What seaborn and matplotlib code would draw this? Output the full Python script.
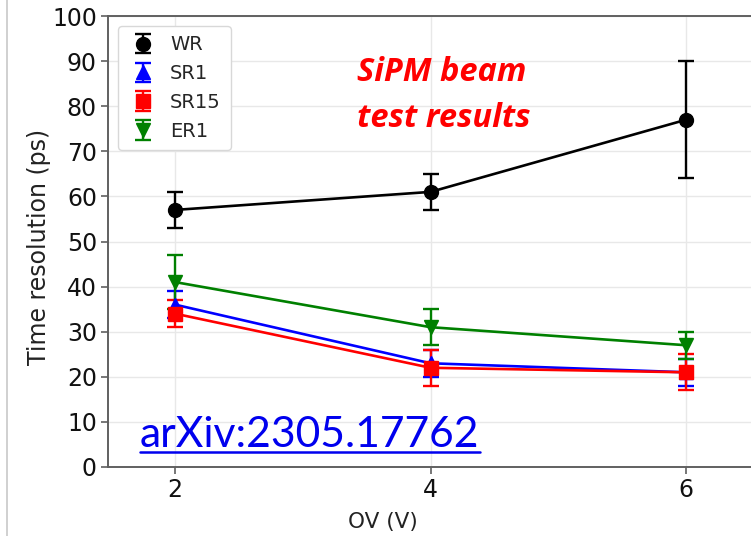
import matplotlib
matplotlib.use("Agg")
import matplotlib.pyplot as plt
from matplotlib.lines import Line2D
import seaborn as sns
import pandas as pd

ov = [2, 4, 6]
series_names = ["WR", "SR1", "SR15", "ER1"]
wr_vals = [57, 61, 77]
wr_errs = [4, 4, 13]
sr1_vals = [36, 23, 21]
sr1_errs = [3, 3, 3]
sr15_vals = [34, 22, 21]
sr15_errs = [3, 4, 4]
er1_vals = [41, 31, 27]
er1_errs = [6, 4, 3]
y_ticks = [0, 10, 20, 30, 40, 50, 60, 70, 80, 90, 100]
x_ticks = [2, 4, 6]

colors = {"WR": "black", "SR1": "#0000ff", "SR15": "#ff0000", "ER1": "#008000"}
markers = {"WR": "o", "SR1": "^", "SR15": "s", "ER1": "v"}

vals = {"WR": wr_vals, "SR1": sr1_vals, "SR15": sr15_vals, "ER1": er1_vals}
errs = {"WR": wr_errs, "SR1": sr1_errs, "SR15": sr15_errs, "ER1": er1_errs}

rows = []
for s in series_names:
    for x, v, e in zip(ov, vals[s], errs[s]):
        rows.append({"OV": x, "res": v, "err": e, "series": s})
df = pd.DataFrame(rows)

sns.set_theme(style="whitegrid")
plt.rcParams["font.family"] = ["DejaVu Sans"]

fig = plt.figure(figsize=(7.51, 5.36), dpi=100)
W, H = 751, 536
ax_left, ax_top, ax_bottom = 108, 16, 467
x_lo, x_hi = 1.475, 6.6
px_per_unit = 127.75
ax_w = (x_hi - x_lo) * px_per_unit
ax = fig.add_axes([ax_left / W, (H - ax_bottom) / H, ax_w / W, (ax_bottom - ax_top) / H])

sns.lineplot(data=df, x="OV", y="res", hue="series", palette=colors,
             hue_order=series_names, legend=False, ax=ax, linewidth=1.9,
             estimator=None, sort=True)

for s in series_names:
    d = df[df.series == s]
    ax.errorbar(d["OV"], d["res"], yerr=d["err"], fmt=markers[s], color=colors[s],
                markersize=10, capsize=6, elinewidth=1.7, capthick=1.7, label=s)

ax.set_xlim(x_lo, x_hi)
ax.set_ylim(0, 100)
ax.set_xticks(x_ticks)
ax.set_yticks(y_ticks)
ax.grid(True, color="#e8e8e8", linewidth=1.0)
for sp in ax.spines.values():
    sp.set_color("#606060")
    sp.set_linewidth(1.4)
ax.tick_params(axis="both", which="both", direction="out", length=5, width=1.2,
               color="#606060", labelsize=17, labelcolor="#111111", left=True, bottom=True, pad=3)
ax.set_xlabel("OV (V)", fontsize=15.5, color="#222222")
ax.set_ylabel("Time resolution (ps)", fontsize=17, color="#222222")
ax.xaxis.set_label_coords((383 - ax_left) / ax_w, -(522 - ax_bottom) / (ax_bottom - ax_top))
ax.xaxis.label.set_va("center")
ax.yaxis.set_label_coords(-(ax_left - 39) / ax_w, 0.487)
ax.yaxis.label.set_va("center")

leg = ax.legend(loc="upper left", fontsize=14, frameon=True, framealpha=1,
                edgecolor="#d8d8d8", fancybox=True, borderpad=0.5, handletextpad=0.6,
                labelspacing=0.5, handlelength=1.6, borderaxespad=0.5)
leg.get_frame().set_linewidth(1.0)

fig.text(357 / W, 1 - 81 / H, "SiPM beam", color="#ff0000", fontsize=23.5,
         fontweight="bold", fontstyle="italic", family=["Open Sans", "DejaVu Sans"],
         ha="left", va="baseline")
fig.text(357 / W, 1 - 127 / H, "test results", color="#ff0000", fontsize=23.5,
         fontweight="bold", fontstyle="italic", family=["Open Sans", "DejaVu Sans"],
         ha="left", va="baseline")

arx = fig.text(140 / W, 1 - 447 / H, "arXiv:2305.17762", color="#0000ee", fontsize=30.7,
               family=["Lato", "DejaVu Sans"], ha="left", va="baseline")
fig.canvas.draw()
bb = arx.get_window_extent(renderer=fig.canvas.get_renderer())
uy = (H - 452) / H
fig.add_artist(Line2D([bb.x0 / W, bb.x1 / W], [uy, uy], transform=fig.transFigure,
                      color="#0000ee", linewidth=1.8))

fig.add_artist(Line2D([7 / W, 7 / W], [0, 1], transform=fig.transFigure,
                      color="#c8c8c8", linewidth=1.2))

fig.savefig("out.png", dpi=100)
